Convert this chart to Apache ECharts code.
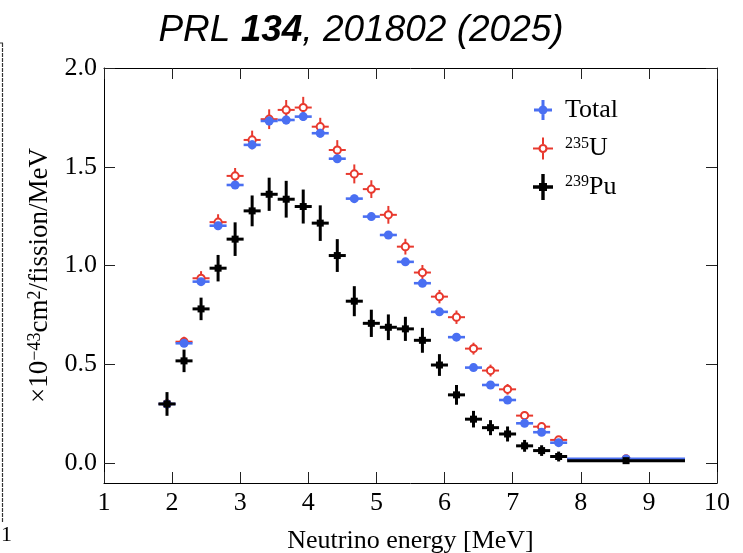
<!DOCTYPE html>
<html><head><meta charset="utf-8">
<script src="https://cdn.jsdelivr.net/npm/echarts@6/dist/echarts.min.js"></script>
<style>html,body{margin:0;padding:0;background:#fff}#c{width:743px;height:553px}</style>
</head><body><div id="c"></div>
<script>
// Bin centres [MeV] and half bin widths
const energy = [1.925, 2.175, 2.425, 2.675, 2.925, 3.175, 3.425, 3.675, 3.925, 4.175, 4.425, 4.675,
                4.925, 5.175, 5.425, 5.675, 5.925, 6.175, 6.425, 6.675, 6.925, 7.175, 7.425, 7.675, 8.665];
const halfWidth = [0.125, 0.125, 0.125, 0.125, 0.125, 0.125, 0.125, 0.125, 0.125, 0.125, 0.125, 0.125,
                   0.125, 0.125, 0.125, 0.125, 0.125, 0.125, 0.125, 0.125, 0.125, 0.125, 0.125, 0.125, 0.865];
// Total
const totalValues = [0.300, 0.607, 0.919, 1.202, 1.408, 1.611, 1.732, 1.737, 1.754, 1.670, 1.541, 1.339,
                     1.248, 1.155, 1.019, 0.911, 0.766, 0.638, 0.484, 0.396, 0.320, 0.202, 0.157, 0.104, 0.022];
const totalErrors = [0.012, 0.015, 0.018, 0.020, 0.020, 0.022, 0.022, 0.022, 0.022, 0.022, 0.020, 0.020,
                     0.018, 0.018, 0.016, 0.016, 0.015, 0.014, 0.013, 0.012, 0.012, 0.010, 0.010, 0.008, 0.004];
// 235U
const u235Values = [0.300, 0.615, 0.936, 1.220, 1.454, 1.636, 1.741, 1.788, 1.800, 1.703, 1.585, 1.464,
                    1.387, 1.257, 1.096, 0.965, 0.843, 0.739, 0.580, 0.469, 0.374, 0.241, 0.185, 0.118, 0.022];
const u235Errors = [0.020, 0.025, 0.036, 0.040, 0.040, 0.047, 0.050, 0.050, 0.054, 0.045, 0.050, 0.048,
                    0.045, 0.045, 0.040, 0.038, 0.034, 0.034, 0.030, 0.030, 0.027, 0.021, 0.017, 0.017, 0.005];
// 239Pu
const pu239Values = [0.300, 0.518, 0.781, 0.987, 1.134, 1.277, 1.361, 1.336, 1.299, 1.215, 1.051, 0.820,
                     0.708, 0.688, 0.680, 0.622, 0.497, 0.346, 0.223, 0.180, 0.148, 0.088, 0.064, 0.034, 0.013];
const pu239Errors = [0.060, 0.057, 0.057, 0.067, 0.085, 0.078, 0.084, 0.093, 0.086, 0.090, 0.083, 0.076,
                     0.069, 0.065, 0.061, 0.063, 0.055, 0.050, 0.042, 0.038, 0.038, 0.030, 0.027, 0.025, 0.008];

const yTickValues = [0, 0.5, 1.0, 1.5, 2.0];
const xTickValues = [1, 2, 3, 4, 5, 6, 7, 8, 9, 10];

const BLUE = '#4a6ff2', RED = '#e8392e', BLACK = '#000000';
const SERIF = 'Liberation Serif, DejaVu Serif, serif';
const SANS = 'Liberation Sans, Arial, sans-serif';

function rows(vals, errs) {
  return energy.map((e, i) => [e, vals[i], halfWidth[i], errs[i]]);
}

const STY = {
  total: { color: BLUE, lw: 2.6 },
  u: { color: RED, lw: 2 },
  pu: { color: BLACK, lw: 3 }
};

function renderer(kind) {
  return function (params, api) {
    const x = api.value(0), y = api.value(1), hw = api.value(2), ey = api.value(3);
    const L = api.coord([x - hw, y]), R = api.coord([x + hw, y]);
    const T = api.coord([x, y + ey]), B = api.coord([x, y - ey]);
    const C = api.coord([x, y]);
    const st = STY[kind];
    const children = [
      { type: 'line', shape: { x1: L[0], y1: L[1], x2: R[0], y2: R[1] }, style: { stroke: st.color, lineWidth: st.lw } },
      { type: 'line', shape: { x1: T[0], y1: T[1], x2: B[0], y2: B[1] }, style: { stroke: st.color, lineWidth: st.lw } }
    ];
    if (kind === 'total') {
      children.push({ type: 'circle', shape: { cx: C[0], cy: C[1], r: 4.5 }, style: { fill: st.color } });
    } else if (kind === 'u') {
      children.push({ type: 'circle', shape: { cx: C[0], cy: C[1], r: 3.6 }, style: { fill: '#fff', stroke: st.color, lineWidth: 2 } });
    } else {
      children.push({ type: 'rect', shape: { x: C[0] - 3.5, y: C[1] - 3.5, width: 7, height: 7 }, style: { fill: st.color } });
    }
    return { type: 'group', children };
  };
}

const PAD = ' M0 0Z M20 26Z';
const ICON_TOTAL = 'path://M1 11.5H19V14.5H1Z M8.5 3H11.5V23H8.5Z M5.5 13A4.5 4.5 0 1 1 14.5 13A4.5 4.5 0 1 1 5.5 13Z' + PAD;
const ICON_U = 'path://M0 12H5.6V14H0Z M14.4 12H20V14H14.4Z M9 2H11V8.6H9Z M9 17.4H11V24H9Z ' +
  'M5.4 13A4.6 4.6 0 1 1 14.6 13A4.6 4.6 0 1 1 5.4 13Z M7.6 13A2.4 2.4 0 1 0 12.4 13A2.4 2.4 0 1 0 7.6 13Z' + PAD;
const ICON_PU = 'path://M0 11.3H20V14.7H0Z M8.3 0H11.7V26H8.3Z M6 9H14V17H6Z' + PAD;

const legendLabels = { 'Total': '{n|Total}', 'U235': '{s|235}{n|U}', 'Pu239': '{s|239}{n|Pu}' };

const axisCommon = {
  type: 'value',
  splitLine: { show: false },
  axisLine: { show: true, onZero: false, lineStyle: { color: '#000', width: 1 } },
  axisTick: { show: true, inside: true, length: 11, lineStyle: { color: '#222', width: 1 } }
};

const chart = echarts.init(document.getElementById('c'), null, { renderer: 'canvas' });
chart.setOption({
  animation: false,
  backgroundColor: '#fff',
  title: {
    text: '{a|PRL }{b|134}{a|, 201802 (2025)}',
    left: 356, top: 7, textAlign: 'center',
    textStyle: {
      fontWeight: 'normal',
      rich: {
        a: { fontFamily: SANS, fontStyle: 'italic', fontWeight: 'normal', fontSize: 37, color: '#000' },
        b: { fontFamily: SANS, fontStyle: 'italic', fontWeight: 'bold', fontSize: 37, color: '#000' }
      }
    }
  },
  grid: { left: 104, right: 26, top: 68, bottom: 70, containLabel: false, outerBoundsMode: 'none' },
  legend: {
    orient: 'vertical', left: 528, top: 92,
    itemWidth: 20, itemHeight: 26, itemGap: 12.5,
    selectedMode: false,
    data: [
      { name: 'Total', icon: ICON_TOTAL, itemStyle: { color: BLUE, borderWidth: 0 } },
      { name: 'U235', icon: ICON_U, itemStyle: { color: RED, borderWidth: 0 } },
      { name: 'Pu239', icon: ICON_PU, itemStyle: { color: BLACK, borderWidth: 0 } }
    ],
    formatter: name => legendLabels[name],
    textStyle: {
      padding: [0, 0, 0, 7],
      rich: {
        n: { fontFamily: SERIF, fontSize: 26, color: '#000', lineHeight: 26 },
        s: { fontFamily: SERIF, fontSize: 16, color: '#000', lineHeight: 16, verticalAlign: 'top' }
      }
    }
  },
  xAxis: [
    Object.assign({}, axisCommon, {
      position: 'bottom', min: 1, max: 10, interval: 1,
      name: 'Neutrino energy [MeV]', nameLocation: 'middle', nameGap: 45,
      nameTextStyle: { fontFamily: SERIF, fontSize: 26, color: '#000' },
      axisLabel: { fontFamily: SERIF, fontSize: 26, color: '#000', margin: 7 }
    }),
    Object.assign({}, axisCommon, {
      position: 'top', min: 1, max: 10, interval: 1,
      axisLabel: { show: false }
    })
  ],
  yAxis: [
    Object.assign({}, axisCommon, {
      position: 'left', min: -0.1, max: 2.0,
      axisTick: Object.assign({}, axisCommon.axisTick, { customValues: yTickValues }),
      axisLabel: { customValues: yTickValues, fontFamily: SERIF, fontSize: 26, color: '#000', margin: 7,
                   formatter: v => Number(v).toFixed(1) },
      name: '×10{s|−43}cm{s|2}/fission/MeV', nameLocation: 'middle', nameGap: 39,
      nameTextStyle: {
        fontFamily: SERIF, fontSize: 27, color: '#000',
        rich: { s: { fontFamily: SERIF, fontSize: 18, color: '#000', verticalAlign: 'top' } }
      }
    }),
    Object.assign({}, axisCommon, {
      position: 'right', min: -0.1, max: 2.0,
      axisTick: Object.assign({}, axisCommon.axisTick, { customValues: yTickValues }),
      axisLabel: { show: false }
    })
  ],
  graphic: [
    { type: 'line', shape: { x1: 2.5, y1: 43, x2: 2.5, y2: 522 }, style: { stroke: '#333', lineWidth: 1.2, lineDash: [4, 1] } },
    { type: 'line', shape: { x1: 0, y1: 43, x2: 3, y2: 43 }, style: { stroke: '#333', lineWidth: 1 } },
    { type: 'text', left: 1, top: 524, style: { text: '1', font: '22px Liberation Serif', fill: '#000' } }
  ],
  series: [
    { name: 'U235', type: 'custom', xAxisIndex: 0, yAxisIndex: 0, renderItem: renderer('u'),
      itemStyle: { color: RED }, encode: { x: 0, y: 1 }, data: rows(u235Values, u235Errors) },
    { name: 'Total', type: 'custom', xAxisIndex: 0, yAxisIndex: 0, renderItem: renderer('total'),
      itemStyle: { color: BLUE }, encode: { x: 0, y: 1 }, data: rows(totalValues, totalErrors) },
    { name: 'Pu239', type: 'custom', xAxisIndex: 0, yAxisIndex: 0, renderItem: renderer('pu'),
      itemStyle: { color: BLACK }, encode: { x: 0, y: 1 }, data: rows(pu239Values, pu239Errors) }
  ]
});
</script>
</body></html>
